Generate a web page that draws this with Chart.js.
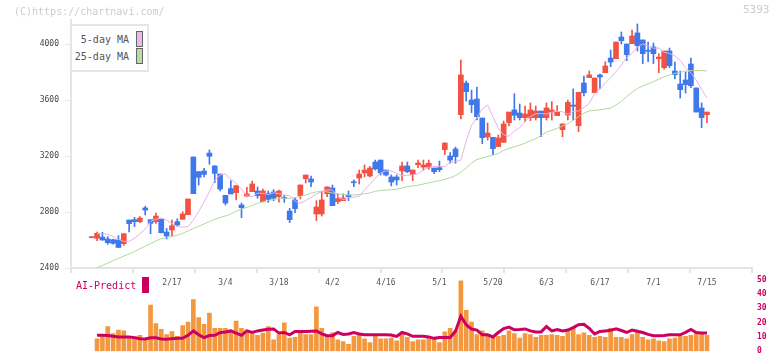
<!DOCTYPE html>
<html>
<head>
<meta charset="utf-8">
<script src="https://cdn.jsdelivr.net/npm/chart.js@4.4.1/dist/chart.umd.min.js"></script>
<style>
html, body { margin: 0; padding: 0; background: #fff; overflow: hidden; }
body { width: 772px; height: 361px; position: relative; font-family: "DejaVu Sans Mono", monospace; }
canvas { position: absolute; left: 0; }
#main { top: 0; }
#sub { top: 270px; }
.txt { position: absolute; white-space: nowrap; }
#copy { left: 14px; top: 6px; font-size: 10px; line-height: 12px; color: #cccccc; }
#code { left: 743px; top: 3px; font-size: 11px; line-height: 13px; color: #cccccc; }
#legend { position: absolute; left: 70px; top: 24px; width: 79px; height: 48px; box-sizing: border-box;
  border: 2px solid #e6e6e6; background: #fff; }
.lg { position: absolute; left: 70px; width: 59px; text-align: right; font-size: 10px; line-height: 12px; color: #555; }
.sw { position: absolute; left: 136px; width: 5px; height: 14px; border: 1px solid #666; }
#ai { left: 76px; top: 280px; font-size: 10px; line-height: 12px; color: #cc0060; }
#aisw { position: absolute; left: 142px; top: 277px; width: 7px; height: 16px; background: #cc0060; }
</style>
</head>
<body>
<canvas id="main" width="772" height="300"></canvas>
<canvas id="sub" width="772" height="91"></canvas>
<div id="copy" class="txt">(C)https://chartnavi.com/</div>
<div id="code" class="txt">5393</div>
<div id="legend"></div>
<div class="lg" style="top:34px">5-day MA</div>
<div class="sw" style="top:31px;background:#ecb8ec"></div>
<div class="lg" style="top:51px">25-day MA</div>
<div class="sw" style="top:48px;background:#b8dca8"></div>
<div id="ai" class="txt">AI-Predict</div>
<div id="aisw"></div>
<script>
// daily candles, index 0 = oldest
const opens = [2617,2612,2621,2607,2602,2600,2574,2743,2745,2731,2829,2745,2731,2748,2657,2671,2731,2748,2781,3193,
  3088,3093,3221,3129,3071,2919,2967,2938,2850,2914,2945,2950,2874,2933,2943,2910,2900,2807,2886,2917,
  3038,3036,2786,2786,2931,2971,2874,2881,2921,3012,3043,3079,3057,3157,3171,3100,3050,3050,3093,3129,
  3067,3138,3121,3121,3114,3117,3245,3200,3250,3495,3721,3600,3607,3471,3336,3333,3267,3298,3438,3529,
  3507,3474,3474,3474,3521,3474,3514,3488,3388,3493,3564,3417,3721,3760,3652,3779,3795,3900,3895,4050,
  4000,4002,4079,4029,3955,3979,3895,3831,3950,3807,3714,3743,3857,3686,3543,3495];
const highs = [2621,2657,2655,2624,2607,2631,2645,2743,2762,2767,2841,2745,2793,2750,2683,2743,2752,2802,2893,3193,
  3090,3112,3243,3131,3071,2919,3024,2990,2864,2976,3021,2979,2964,2950,2960,2957,2919,2826,2902,2993,
  3064,3057,2881,2950,2979,2993,2929,2929,2950,3029,3100,3136,3126,3171,3171,3100,3064,3064,3157,3157,
  3100,3171,3171,3171,3114,3164,3293,3224,3264,3886,3736,3671,3693,3471,3436,3333,3350,3450,3514,3645,
  3571,3557,3579,3557,3521,3579,3588,3560,3429,3600,3679,3655,3771,3807,3757,3786,3874,3957,4014,4086,
  4000,4100,4143,4029,4014,4007,3931,3950,3971,3871,3807,3800,3900,3686,3579,3514];
const lows = [2616,2595,2598,2569,2571,2545,2562,2657,2695,2724,2779,2645,2719,2650,2607,2631,2700,2748,2781,2931,
  2993,3050,3141,3010,2950,2850,2929,2886,2760,2910,2945,2898,2874,2869,2881,2871,2869,2724,2795,2893,
  3007,2981,2738,2771,2910,2845,2860,2881,2881,2981,3000,3050,3050,3100,3064,3057,2986,2993,3024,3081,
  3024,3117,3100,3105,3074,3088,3210,3148,3148,3464,3593,3510,3457,3288,3314,3210,3267,3298,3414,3457,
  3457,3445,3452,3457,3338,3457,3457,3488,3338,3457,3457,3374,3629,3760,3652,3679,3795,3838,3895,4000,
  3881,4002,3950,3860,3874,3860,3795,3821,3831,3750,3614,3650,3688,3514,3402,3438];
const closes = [2620,2648,2600,2581,2576,2547,2645,2717,2731,2757,2814,2719,2771,2652,2629,2702,2707,2786,2893,2931,
  3048,3069,3198,3076,2964,2864,2929,2988,2831,2929,3000,2917,2950,2890,2898,2950,2896,2745,2824,2993,
  3064,3014,2836,2886,2979,2845,2895,2900,2910,3009,3071,3100,3114,3107,3079,3064,3014,3029,3129,3088,
  3100,3150,3136,3148,3088,3102,3293,3171,3195,3779,3660,3567,3481,3331,3364,3252,3329,3429,3514,3491,
  3474,3500,3529,3521,3474,3543,3529,3514,3429,3583,3555,3655,3652,3779,3757,3764,3843,3871,4014,4024,
  3924,4057,3988,3931,3948,3931,3907,3950,3845,3781,3674,3710,3702,3514,3474,3514];
const ma5 = [null,2645,2645,2640,2625,2605,2590,2590,2613,2643,2679,2733,2748,2758,2743,2717,2695,2692,2695,2743,
  2804,2873,2945,3028,3064,3071,3034,3006,2964,2915,2908,2935,2933,2925,2937,2931,2921,2917,2876,2863,
  2882,2904,2928,2946,2959,2956,2912,2888,2901,2906,2912,2957,2998,3041,3080,3094,3093,3076,3059,3063,
  3065,3072,3099,3121,3124,3124,3125,3153,3160,3170,3308,3420,3474,3536,3564,3481,3399,3351,3341,3378,
  3403,3447,3482,3502,3503,3500,3513,3519,3516,3498,3520,3522,3547,3575,3645,3680,3721,3759,3803,3850,
  3903,3935,3978,4001,3985,3970,3971,3941,3933,3916,3883,3831,3792,3742,3676,3615];
const ma25 = [null,2403,2418,2435,2452,2469,2485,2501,2517,2536,2556,2574,2593,2610,2618,2624,2635,2648,2665,2682,
  2698,2715,2731,2748,2761,2772,2785,2805,2820,2833,2847,2862,2872,2882,2890,2896,2898,2898,2902,2912,
  2921,2934,2944,2946,2944,2936,2930,2924,2921,2922,2925,2930,2936,2948,2954,2956,2960,2963,2972,2981,
  2986,2991,3000,3008,3016,3025,3033,3045,3060,3085,3115,3150,3175,3186,3196,3206,3218,3240,3254,3266,
  3277,3292,3308,3324,3345,3370,3384,3398,3415,3430,3455,3481,3505,3522,3526,3530,3536,3542,3565,3590,
  3625,3655,3682,3700,3715,3732,3748,3765,3779,3790,3798,3806,3810,3812,3811,3807];
const volume = [null,8.6,10.6,17.3,12.3,14.8,14.2,10.0,10.0,11.1,8.3,32.3,19.4,15.4,11.7,13.8,10.4,17.9,20.4,36.1,
  23.6,18.8,26.7,16.1,16.1,16.1,14.8,21.1,16.1,14.8,12.0,11.1,12.7,17.3,7.9,11.7,19.8,9.2,9.8,12.9,
  11.7,11.7,31.1,16.1,10.4,12.9,7.9,6.7,4.8,10.4,11.1,8.6,6.1,10.4,8.6,8.6,9.2,7.3,13.5,9.8,
  6.7,7.9,7.9,9.2,7.9,6.1,13.5,16.1,14.2,49.2,28.6,20.4,11.7,14.2,11.7,9.8,10.4,11.1,14.2,12.3,
  9.2,12.3,11.7,9.8,11.1,11.1,11.7,11.1,10.4,14.2,16.1,11.7,12.9,11.1,9.8,10.4,9.8,16.1,9.8,9.8,
  8.6,11.7,13.5,9.8,7.9,8.6,7.3,6.7,8.6,9.2,10.4,10.4,11.1,12.3,12.3,11.1];
const aiPredict = [null,11.1,11.2,11.0,10.5,10.0,10.0,10.0,9.5,8.8,8.6,9.4,9.4,8.5,8.3,8.8,9.0,9.0,11.1,14.2,
  11.5,9.5,11.0,11.1,13.0,13.5,14.2,12.7,11.1,14.2,13.1,14.2,14.8,15.4,15.6,12.7,13.1,11.5,13.8,13.8,
  13.8,14.0,14.2,12.1,10.9,10.9,13.1,11.7,12.0,13.1,12.0,11.5,11.5,11.5,11.5,11.5,11.3,10.4,13.1,12.1,
  10.4,10.4,10.4,10.0,9.0,9.6,9.6,9.6,14.0,24.5,18.5,15.5,14.8,11.5,11.5,10.0,13.1,15.8,16.9,15.0,
  15.2,15.6,14.2,13.5,13.5,17.3,14.2,15.2,14.2,14.8,16.5,18.5,18.9,16.0,12.1,13.8,14.2,14.6,15.6,14.5,
  13.1,14.8,14.0,13.1,11.8,10.9,10.9,11.0,11.5,11.5,11.5,13.2,15.2,13.1,12.7,12.7];

// axis labels
const yTicks = [2400, 2800, 3200, 3600, 4000];
const tickIdx = [15, 25, 35, 45, 55, 65, 75, 85, 95, 105, 115];
const tickLabels = ['2/17', '3/4', '3/18', '4/2', '4/16', '5/1', '5/20', '6/3', '6/17', '7/1', '7/15'];

const RED = '#f25242';
const BLUE = '#3f78ea';
const PINK = '#e8b0e8';
const GREEN = '#b0d8a0';
const ORANGE = '#f3983f';
const MAG = '#cc0060';
const AXIS = '#e4e4e4';

// x range so that the candles land where the original puts them
const xMin = -3.87;
const xMax = 123.42;

Chart.defaults.font.family = '"DejaVu Sans Mono", monospace';
Chart.defaults.animation = false;

const idx = closes.map((_, i) => i);
const candleColor = idx.map(i => closes[i] >= opens[i] ? RED : BLUE);

new Chart(document.getElementById('main'), {
    type: 'bar',
    data: {
        datasets: [
            {
                type: 'line',
                data: idx.map(i => ({ x: i, y: ma5[i] })),
                borderColor: PINK,
                borderWidth: 1,
                pointRadius: 0,
                order: 1
            },
            {
                type: 'line',
                data: idx.map(i => ({ x: i, y: ma25[i] })),
                borderColor: GREEN,
                borderWidth: 1,
                pointRadius: 0,
                order: 1
            },
            {
                data: idx.map(i => ({ x: i, y: [lows[i], highs[i]] })),
                backgroundColor: candleColor,
                barThickness: 1,
                grouped: false,
                order: 3
            },
            {
                data: idx.map(i => ({ x: i, y: [opens[i], closes[i]] })),
                backgroundColor: candleColor,
                barThickness: 5,
                minBarLength: 1,
                grouped: false,
                order: 2
            }
        ]
    },
    options: {
        responsive: false,
        layout: { padding: { left: 0, right: 20, top: 20, bottom: 6 } },
        plugins: { legend: { display: false }, tooltip: { enabled: false } },
        scales: {
            x: {
                type: 'linear',
                offset: false,
                min: xMin,
                max: xMax,
                position: 'bottom',
                weight: 1,
                grid: { display: false, drawTicks: false, offset: false },
                border: { display: false },
                afterBuildTicks: s => { s.ticks = tickIdx.map(v => ({ value: v })); },
                afterFit: s => { s.height = 20; },
                ticks: {
                    autoSkip: false,
                    maxRotation: 0,
                    padding: 4,
                    color: '#555',
                    font: { size: 8 },
                    callback: v => {
                        const k = tickIdx.indexOf(v);
                        return k >= 0 ? tickLabels[k] : '';
                    }
                }
            },
            x2: {
                type: 'linear',
                axis: 'x',
                offset: false,
                min: 0,
                max: 11,
                position: 'bottom',
                weight: 0,
                ticks: { stepSize: 1, display: false },
                grid: { offset: false, drawOnChartArea: false, tickLength: 5, color: AXIS, lineWidth: 2 },
                border: { color: AXIS, width: 2 },
                afterFit: s => { s.height = 6; }
            },
            y: {
                type: 'linear',
                min: 2400,
                max: 4171.43,
                afterBuildTicks: s => { s.ticks = yTicks.map(v => ({ value: v })); },
                afterFit: s => { s.width = 71; },
                grid: { drawOnChartArea: false, tickLength: 6, color: AXIS, lineWidth: 1 },
                border: { color: AXIS, width: 2 },
                ticks: { color: '#444', font: { size: 8 }, padding: 6, callback: v => String(v) }
            }
        }
    }
});

new Chart(document.getElementById('sub'), {
    type: 'bar',
    data: {
        datasets: [
            {
                type: 'line',
                data: idx.map(i => ({ x: i, y: aiPredict[i] })),
                borderColor: MAG,
                borderWidth: 3,
                pointRadius: 0,
                order: 1
            },
            {
                data: idx.map(i => ({ x: i, y: volume[i] })),
                backgroundColor: ORANGE,
                barThickness: 4,
                order: 2
            }
        ]
    },
    options: {
        responsive: false,
        layout: { padding: { left: 71, right: 0, top: 8, bottom: 3 } },
        plugins: { legend: { display: false }, tooltip: { enabled: false } },
        scales: {
            x: { type: 'linear', offset: false, min: xMin, max: xMax, display: false, grid: { offset: false } },
            y: {
                position: 'right',
                min: 0,
                max: 50,
                afterFit: s => { s.width = 20; },
                grid: { display: false, drawTicks: false },
                border: { display: false },
                ticks: { stepSize: 10, padding: 5, color: MAG, font: { size: 8, weight: 'bold' } }
            }
        }
    }
});
</script>
</body>
</html>
